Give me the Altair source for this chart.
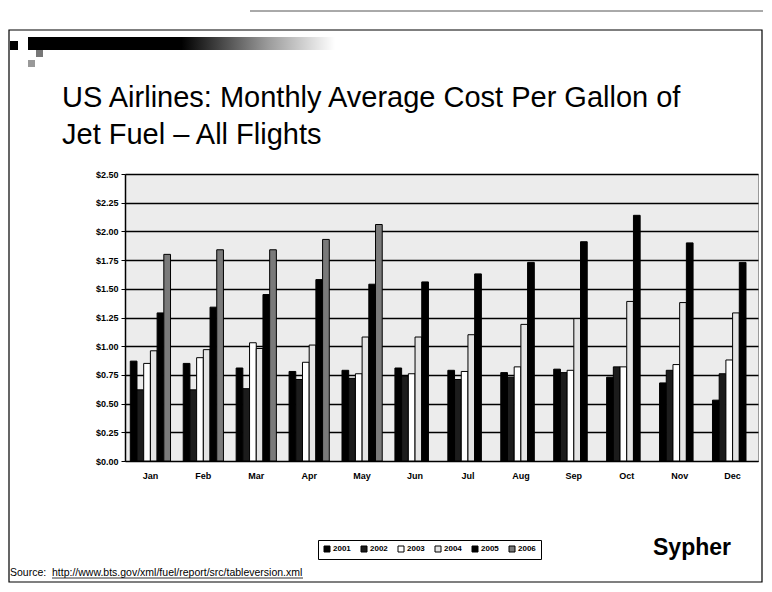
import altair as alt
import pandas as pd

months = ["Jan", "Feb", "Mar", "Apr", "May", "Jun", "Jul", "Aug", "Sep", "Oct", "Nov", "Dec"]
years = ["2001", "2002", "2003", "2004", "2005", "2006"]

v2001 = [0.87, 0.85, 0.81, 0.78, 0.79, 0.81, 0.79, 0.77, 0.80, 0.73, 0.68, 0.53]
v2002 = [0.62, 0.62, 0.63, 0.71, 0.72, 0.74, 0.71, 0.73, 0.77, 0.82, 0.79, 0.76]
v2003 = [0.85, 0.90, 1.03, 0.86, 0.76, 0.76, 0.78, 0.82, 0.79, 0.82, 0.84, 0.88]
v2004 = [0.96, 0.97, 0.98, 1.01, 1.08, 1.08, 1.10, 1.19, 1.24, 1.39, 1.38, 1.29]
v2005 = [1.29, 1.34, 1.45, 1.58, 1.54, 1.56, 1.63, 1.73, 1.91, 2.14, 1.90, 1.73]
v2006 = [1.80, 1.84, 1.84, 1.93, 2.06]

colors = ["#000000", "#1c1c1c", "#ffffff", "#e4e4e4", "#000000", "#7a7a7a"]
y_ticks = [0, 0.25, 0.5, 0.75, 1.0, 1.25, 1.5, 1.75, 2.0, 2.25, 2.5]

title_line1 = "US Airlines: Monthly Average Cost Per Gallon of"
title_line2 = "Jet Fuel \u2013 All Flights"
brand = "Sypher"
source_label = "Source:"
source_url = "http://www.bts.gov/xml/fuel/report/src/tableversion.xml"

rows = []
for yr, vals in zip(years, [v2001, v2002, v2003, v2004, v2005, v2006]):
    for m, v in zip(months, vals):
        rows.append({"month": m, "year": yr, "value": v})
df = pd.DataFrame(rows)

W, H = 633, 287
PAD_L, PAD_T = 117, 166
TOTAL_W, TOTAL_H = 755, 575

one = pd.DataFrame({"k": [0]})

bars = alt.Chart(df).mark_bar(stroke="black", strokeWidth=1).encode(
    x=alt.X("month:N", sort=months, title=None,
            scale=alt.Scale(paddingInner=0.24, paddingOuter=0.1),
            axis=alt.Axis(labelAngle=0, labelFont="Liberation Sans", labelFontWeight="bold",
                          labelFontSize=9, labelColor="black", ticks=False,
                          domainColor="black", labelPadding=10)),
    xOffset=alt.XOffset("year:N", sort=years, scale=alt.Scale(paddingInner=0, paddingOuter=0)),
    y=alt.Y("value:Q", title=None, scale=alt.Scale(domain=[0, 2.5], nice=False),
            axis=alt.Axis(values=y_ticks, format="$.2f", labelFont="Liberation Sans",
                          labelFontWeight="bold", labelFontSize=9, labelColor="black",
                          tickColor="black", tickSize=4, domainColor="black", domainWidth=1.5,
                          gridColor="black", gridWidth=1.3, labelPadding=3)),
    fill=alt.Fill("year:N", sort=years, scale=alt.Scale(domain=years, range=colors),
                  legend=alt.Legend(title=None, orient="none", legendX=193, legendY=366,
                                    direction="horizontal", columns=6, symbolType="square",
                                    symbolSize=36, symbolStrokeColor="black", symbolStrokeWidth=1,
                                    labelFont="Liberation Sans", labelFontWeight="bold",
                                    labelFontSize=8, labelColor="black", columnPadding=8,
                                    padding=5, strokeColor="black", cornerRadius=0,
                                    labelOffset=2)),
)

# Slide border
border = alt.Chart(one).mark_rect(fill=None, stroke="black", strokeWidth=1.2).encode(
    x=alt.value(-PAD_L + 1), x2=alt.value(TOTAL_W - PAD_L - 1),
    y=alt.value(30 - 8 - PAD_T), y2=alt.value(TOTAL_H - PAD_T - 1),
)
topline = alt.Chart(one).mark_rule(color="#555", strokeWidth=1).encode(
    x=alt.value(250 - 8 - PAD_L), x2=alt.value(TOTAL_W - PAD_L),
    y=alt.value(11 - 8 - PAD_T),
)

# Decorative header bar with gradient
grad = alt.Gradient(gradient="linear", x1=0, x2=1, y1=0, y2=0,
                    stops=[alt.GradientStop(color="#000000", offset=0),
                           alt.GradientStop(color="#000000", offset=0.5),
                           alt.GradientStop(color="#9a9a9a", offset=0.78),
                           alt.GradientStop(color="#ffffff", offset=1)])
hbar = alt.Chart(one).mark_rect(fill=grad).encode(
    x=alt.value(28 - 8 - PAD_L), x2=alt.value(335 - 8 - PAD_L),
    y=alt.value(37 - 8 - PAD_T), y2=alt.value(50 - 8 - PAD_T),
)
sq1 = alt.Chart(one).mark_rect(fill="black").encode(
    x=alt.value(10 - 8 - PAD_L), x2=alt.value(18 - 8 - PAD_L),
    y=alt.value(41 - 8 - PAD_T), y2=alt.value(50 - 8 - PAD_T),
)
sq2 = alt.Chart(one).mark_rect(fill="#777").encode(
    x=alt.value(36 - 8 - PAD_L), x2=alt.value(43 - 8 - PAD_L),
    y=alt.value(50 - 8 - PAD_T), y2=alt.value(57 - 8 - PAD_T),
)
sq3 = alt.Chart(one).mark_rect(fill="#999").encode(
    x=alt.value(28 - 8 - PAD_L), x2=alt.value(35 - 8 - PAD_L),
    y=alt.value(60 - 8 - PAD_T), y2=alt.value(67 - 8 - PAD_T),
)

def text_layer(txt, px, py, size, weight="normal", font="Liberation Sans", align="left", baseline="alphabetic"):
    return alt.Chart(one).mark_text(text=txt, font=font, fontSize=size, fontWeight=weight,
                                    align=align, baseline=baseline, color="black").encode(
        x=alt.value(px - 8 - PAD_L), y=alt.value(py - 8 - PAD_T))

t1 = text_layer(title_line1, 62, 107, 29)
t2 = text_layer(title_line2, 62, 144, 29)
sy = text_layer(brand, 692, 555, 23, weight="bold", align="center")
s1 = text_layer(source_label, 10, 576, 10.5)
s2 = text_layer(source_url, 52, 576, 10.5)
ul = alt.Chart(one).mark_rule(color="black", strokeWidth=0.8).encode(
    x=alt.value(52 - 8 - PAD_L), x2=alt.value(303 - 8 - PAD_L),
    y=alt.value(578 - 8 - PAD_T),
)

chart = alt.layer(border, topline, hbar, sq1, sq2, sq3, t1, t2, bars, sy, s1, s2, ul).properties(
    width=W, height=H,
    autosize=alt.AutoSizeParams(type="none"),
    padding={"left": PAD_L, "top": PAD_T, "right": TOTAL_W - PAD_L - W, "bottom": TOTAL_H - PAD_T - H},
    background="white",
).configure_view(fill="#ececec", stroke="#999", strokeWidth=1)

chart.save("out.html", embed_options={"renderer": "svg", "actions": False})
